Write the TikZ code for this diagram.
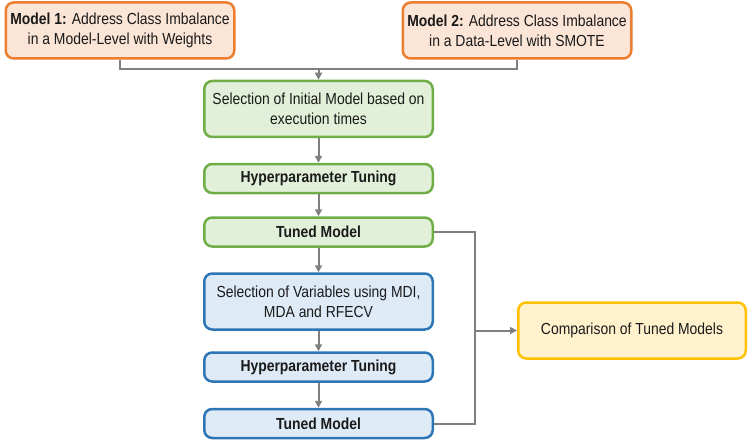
\documentclass[tikz,border=0pt]{standalone}
\usepackage{fontspec}
\setmainfont{Liberation Sans}[FakeStretch=0.87]
\usetikzlibrary{arrows.meta}
\definecolor{orangeline}{HTML}{ED7D31}
\definecolor{orangefill}{HTML}{FBE5D6}
\definecolor{greenline}{HTML}{70AD47}
\definecolor{greenfill}{HTML}{E2F0D9}
\definecolor{blueline}{HTML}{2E75B6}
\definecolor{bluefill}{HTML}{DEEBF7}
\definecolor{yellowline}{HTML}{FFC000}
\definecolor{yellowfill}{HTML}{FFF2CC}
\definecolor{linkgray}{HTML}{7F7F7F}
\definecolor{inkblack}{HTML}{1A1A1A}

\begin{document}
\begin{tikzpicture}
[x=1pt,y=-1pt%
,stage/.style={rectangle,%
	rounded corners=8pt,%
	line width=2.5pt,%
	minimum width=228.5pt,%
	inner sep=2pt,%
	align=center,%
	text=inkblack,%
	font=\fontsize{16}{20}\selectfont}%
,tallbox/.style={stage,minimum height=56pt}%
,flatbox/.style={stage,minimum height=29pt,font=\fontsize{16}{20}\selectfont\bfseries}%
,modelbox/.style={tallbox,draw=orangeline,fill=orangefill}%
,greenbox/.style={draw=greenline,fill=greenfill}%
,bluebox/.style={draw=blueline,fill=bluefill}%
,link/.style={draw=linkgray,line width=2pt}%
,linkarrow/.style={link,-{Triangle[length=7pt,width=7pt]}}]
\useasboundingbox (0,0) rectangle (748,444);

% inputs
\node[modelbox] (mone) at (120,30.5) {\textbf{Model 1:} Address Class Imbalance\\in a Model-Level with Weights};
\node[modelbox] (mtwo) at (517,30.5) {\textbf{Model 2:} Address Class Imbalance\\in a Data-Level with SMOTE};

% first pass
\node[tallbox,greenbox] (initsel) at (318.5,109) {Selection of Initial Model based on\\execution times};
\node[flatbox,greenbox] (hypone) at (318.5,178.5) {Hyperparameter Tuning};
\node[flatbox,greenbox] (tunedone) at (318.5,232) {Tuned Model};

% second pass
\node[tallbox,bluebox] (varsel) at (318.5,301.5) {Selection of Variables using MDI,\\MDA and RFECV};
\node[flatbox,bluebox] (hyptwo) at (318.5,367) {Hyperparameter Tuning};
\node[flatbox,bluebox] (tunedtwo) at (318.5,423.5) {Tuned Model};

\node[tallbox,draw=yellowline,fill=yellowfill,minimum width=227.5pt] (compare) at (632,330.5) {Comparison of Tuned Models};

\coordinate (merge) at (318.5,69);
\coordinate (bus) at (475,330.5);

\draw[link] (mone.south) |- (merge) -| (mtwo.south);
\draw[linkarrow] (merge) -- (initsel.north);
\draw[linkarrow] (initsel) -- (hypone);
\draw[linkarrow] (hypone) -- (tunedone);
\draw[linkarrow] (tunedone) -- (varsel);
\draw[linkarrow] (varsel) -- (hyptwo);
\draw[linkarrow] (hyptwo) -- (tunedtwo);
\draw[link] (tunedone.east) -| (bus) |- (tunedtwo.east);
\draw[linkarrow] (bus) -- (compare.west);
\end{tikzpicture}
\end{document}
